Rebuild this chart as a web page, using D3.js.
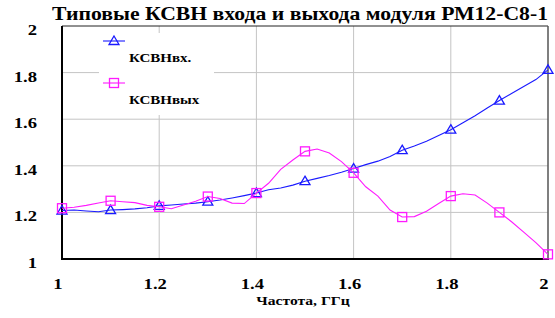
<!DOCTYPE html>
<html lang="ru">
<head>
    <meta charset="UTF-8">
    <title>Типовые КСВН</title>
    <script src="https://d3js.org/d3.v7.min.js"></script>
    <style>
        body { margin: 0; background: #fff; }
        .grid line { stroke: #c4c4c4; stroke-width: 1; }
    </style>
</head>
<body>
    <svg id="chart" width="555" height="318"></svg>

    <script>
        // frequency, GHz (step 0.025)
        const freq = [1.0, 1.025, 1.05, 1.075, 1.1, 1.125, 1.15, 1.175, 1.2, 1.225,
            1.25, 1.275, 1.3, 1.325, 1.35, 1.375, 1.4, 1.425, 1.45, 1.475,
            1.5, 1.525, 1.55, 1.575, 1.6, 1.625, 1.65, 1.675, 1.7, 1.725,
            1.75, 1.775, 1.8, 1.825, 1.85, 1.875, 1.9, 1.925, 1.95, 1.975, 2.0];
        const vswrIn = [1.208, 1.21, 1.206, 1.203, 1.21, 1.212, 1.215, 1.22, 1.228, 1.232,
            1.236, 1.24, 1.246, 1.253, 1.262, 1.272, 1.283, 1.297, 1.305, 1.317,
            1.334, 1.346, 1.358, 1.372, 1.388, 1.405, 1.42, 1.44, 1.467, 1.485,
            1.505, 1.53, 1.555, 1.585, 1.615, 1.648, 1.68, 1.71, 1.74, 1.77, 1.812];
        const vswrOut = [1.218, 1.222, 1.23, 1.24, 1.25, 1.246, 1.242, 1.23, 1.224, 1.216,
            1.232, 1.248, 1.268, 1.26, 1.24, 1.238, 1.283, 1.325, 1.385, 1.425,
            1.462, 1.472, 1.455, 1.418, 1.37, 1.31, 1.27, 1.21, 1.18, 1.182,
            1.205, 1.238, 1.27, 1.28, 1.275, 1.24, 1.2, 1.16, 1.115, 1.07, 1.02];
        const xTicks = [1, 1.2, 1.4, 1.6, 1.8, 2];
        const yTicks = [1, 1.2, 1.4, 1.6, 1.8, 2];
        const seriesNames = ['КСВНвх.', 'КСВНвых'];

        const svg = d3.select('#chart')
            .style('font-family', "'Liberation Serif'")
            .style('font-weight', 'bold');
        const plotL = 62, plotR = 548, plotT = 26, plotB = 259;
        const stretch = 1.2; // text in the original is stretched sideways

        const x = d3.scaleLinear().domain([1, 2]).range([plotL, plotR]);
        const y = d3.scaleLinear().domain([1, 2]).range([plotB, plotT]);

        function label(px, py, str, size, anchor) {
            return svg.append('text')
                .attr('transform', `translate(${px},${py}) scale(${stretch},1)`)
                .attr('text-anchor', anchor || 'start')
                .attr('font-size', size)
                .attr('fill', '#000')
                .text(str);
        }

        // grid
        const grid = svg.append('g').attr('class', 'grid');
        grid.selectAll('.vx').data(xTicks.slice(1, -1)).join('line')
            .attr('x1', d => x(d)).attr('x2', d => x(d))
            .attr('y1', plotT).attr('y2', plotB);
        grid.selectAll('.hy').data(yTicks.slice(1, -1)).join('line')
            .attr('x1', plotL).attr('x2', plotR)
            .attr('y1', d => y(d)).attr('y2', d => y(d));

        // legend background covers grid
        svg.append('rect')
            .attr('x', 99).attr('y', 33).attr('width', 115).attr('height', 82)
            .attr('fill', '#fff');

        // frame: thin top/right, thick left/bottom
        svg.append('line').attr('x1', plotL).attr('x2', plotR).attr('y1', plotT).attr('y2', plotT)
            .attr('stroke', '#222').attr('stroke-width', 1);
        svg.append('line').attr('x1', plotR).attr('x2', plotR).attr('y1', plotT).attr('y2', plotB)
            .attr('stroke', '#555').attr('stroke-width', 1.5);
        svg.append('line').attr('x1', plotL).attr('x2', plotL).attr('y1', plotT).attr('y2', plotB + 1)
            .attr('stroke', '#000').attr('stroke-width', 2);
        svg.append('line').attr('x1', plotL - 1).attr('x2', plotR + 1).attr('y1', plotB).attr('y2', plotB)
            .attr('stroke', '#000').attr('stroke-width', 2);

        // tick labels
        yTicks.forEach(d => label(37, y(d) + 9, d3.format('')(d), 15.5, 'end'));
        xTicks.forEach(d => label(x(d) - 4, 289, d3.format('')(d), 15.5, 'middle'));

        label(303, 305, 'Частота, ГГц', 13, 'middle');

        // title: fit to the width it has in the original
        svg.append('text')
            .attr('x', 52).attr('y', 20)
            .attr('font-size', 19).attr('fill', '#000')
            .attr('textLength', 496).attr('lengthAdjust', 'spacingAndGlyphs')
            .text('Типовые КСВН входа и выхода модуля РМ12-С8-1');

        // series
        const series = [
            { name: seriesNames[0], values: vswrIn, color: '#1a1aff', mark: 'tri' },
            { name: seriesNames[1], values: vswrOut, color: '#ff1aff', mark: 'sq' }
        ];
        const line = d3.line().x(d => x(d[0])).y(d => y(d[1]));
        const triPath = 'M0,-5L5,3.5L-5,3.5Z';

        function drawMark(g, mark, color, cx, cy) {
            if (mark === 'tri') {
                g.append('path').attr('d', triPath)
                    .attr('transform', `translate(${cx},${cy})`)
                    .attr('fill', 'none').attr('stroke', color).attr('stroke-width', 1.3);
            } else {
                g.append('rect').attr('x', cx - 4.5).attr('y', cy - 4.5)
                    .attr('width', 9).attr('height', 9)
                    .attr('fill', 'none').attr('stroke', color).attr('stroke-width', 1.3);
            }
        }

        series.forEach(s => {
            const pts = freq.map((f, i) => [f, s.values[i]]);
            svg.append('path').datum(pts)
                .attr('d', line).attr('fill', 'none')
                .attr('stroke', s.color).attr('stroke-width', 1.1);
            const g = svg.append('g');
            pts.filter((p, i) => i % 4 === 0)
                .forEach(p => drawMark(g, s.mark, s.color, x(p[0]), y(p[1])));
        });

        // legend
        series.forEach((s, i) => {
            const ly = 41 + i * 42;
            svg.append('line').attr('x1', 103).attr('x2', 125).attr('y1', ly).attr('y2', ly)
                .attr('stroke', s.color).attr('stroke-width', 1.1);
            drawMark(svg, s.mark, s.color, 114, ly);
            label(129, ly + 21, s.name, 12.5);
        });
    </script>
</body>
</html>
